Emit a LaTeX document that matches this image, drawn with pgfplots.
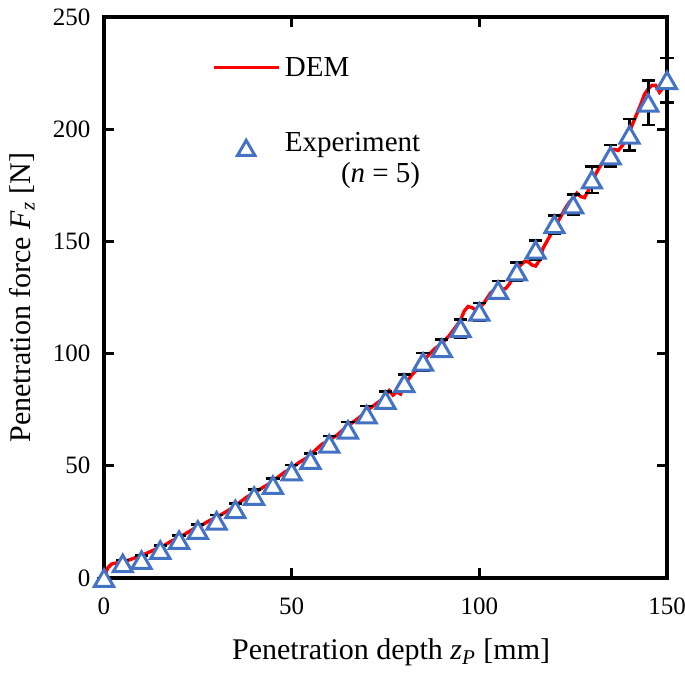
\documentclass[border=0pt]{standalone}
\usepackage{fontspec}
\setmainfont{Liberation Serif}
\usepackage{pgfplots}
\usepackage{pgfplotstable}
\pgfplotsset{compat=1.18}
\definecolor{demred}{RGB}{255,0,0}
\definecolor{expblue}{RGB}{68,114,196}

\pgfplotstableread{
x y
0 0
0.5 2.5
1 4.5
2 6.2
3 6.6
4 6.9
5 7.2
7 8.2
9 9.5
10 10
12 11.5
14 13
16 14.5
18 16.5
20 18
22 20
24 22
26 23.5
28 25.5
30 27
32 29
34 31
36 33.5
38 36
40 38
42 40
44 42
46 44.5
48 47
50 49
52 51.5
54 53.5
56 56.5
58 59.5
60 61.5
62 63.5
64 66.5
66 69
68 71.5
70 74.5
72 77
74 79.5
75 81.5
76 83.5
77 81.5
78 83
79 82
80 86
82 90.5
84 94
86 98.5
88 102
90 104.5
92 108
94 112.5
95 115
96 119
97 121
98 120.5
99 119.5
100 120.5
101 122
102 124.5
103 127
104 128.5
105 129
106 128.5
107 129
108 131
109 134
110 137
111 139.5
112 141
113 141
114 139.5
115 139
116 141.5
117 147
118 150
119 153
120 156
121 159
122 162
123 165
124 167.5
125 169
126 171.5
127 170
128 169.5
129 172.5
130 176
131 180
132 183
133 185.5
134 188
135 190
136 191
137 190.5
138 192.5
139 195
140 199
141 203
142 207
143 211
144 215.5
145 218
146 219.5
147 219.5
148 216.5
149 218.5
150 219
}\demtable

\pgfplotstableread{
x y e
0 0 0
5 6.5 1.5
10 8 2
15 12.5 2
20 16.9 2
25 21.4 2.5
30 25.5 2.5
35 30.6 2.5
40 36.5 3
45 41.4 3
50 47.4 3
55 52.6 3
60 59.8 3.5
65 66 3.5
70 72.8 3.8
75 79.3 3.8
80 86.8 4
85 96.3 4
90 102.4 4
95 111.3 4
100 118.6 4
105 128.3 4
110 136.5 4
115 146.2 4.3
120 157.6 4
125 166.4 4.5
130 177.5 6
135 188.2 4.8
140 197.5 7
145 211.8 10
150 221.8 10
}\exptable

\begin{document}
\begin{tikzpicture}
\begin{axis}[
  scale only axis,
  width=281.5pt, height=280.5pt,
  xmin=0, xmax=150, ymin=0, ymax=250,
  xtick={0,50,100,150},
  ytick={0,50,100,150,200,250},
  minor tick num=0,
  tick align=inside,
  tick pos=both,
  major tick length=5pt,
  axis line style={line width=1.6pt},
  every tick/.style={black, line width=1.4pt},
  /pgf/number format/assume math mode=true,
  tick label style={font=\fontsize{12.5}{15}\selectfont},
  xticklabel style={yshift=-6.5pt},
  yticklabel style={xshift=-3.3pt},
  xlabel={Penetration depth \textit{z}\textsubscript{\textit{P}} [mm]},
  ylabel={Penetration force \textit{F}\textsubscript{\textit{z}} [N]},
  label style={font=\fontsize{15}{18}\selectfont},
  xlabel style={at={(axis description cs:0.51,-0.146)}, anchor=base},
  ylabel style={at={(axis description cs:-0.131,0.5)}, anchor=base},
  clip=false,
  legend cell align=left,
  legend style={draw=none, fill=none, inner sep=0pt,
    at={(axis description cs:0.192,0.935)}, anchor=north west,
    font=\fontsize{14.5}{15.5}\selectfont,
    row sep=21pt, column sep=0pt,
    cells={anchor=base west}},
]
\addplot[demred, line width=1.7pt, no marks,
  legend image code/.code={\draw[demred, line width=1.7pt] (0pt,4.75pt) -- (32.5pt,4.75pt);}]
  table[x=x, y=y] {\demtable};
\addlegendentry{DEM}
\addplot[only marks, mark=none, forget plot,
  error bars/.cd, y dir=both, y explicit,
  error mark=-,
  error bar style={solid, black, line width=1.3pt},
  error mark options={black, rotate=90, line width=1.3pt, mark size=3.3pt}]
  table[x=x, y=y, y error=e] {\exptable};
\addplot[only marks, mark=triangle*, mark size=5.5pt,
  mark options={fill=white, draw=expblue, line width=1.5pt, yshift=-1.4pt},
  legend image code/.code={\draw[mark=triangle*, mark size=5pt, mark options={fill=white, draw=expblue, line width=1.5pt}] plot coordinates {(16pt,0.6pt)};}]
  table[x=x, y=y] {\exptable};
\addlegendentry{\begin{tabular}[t]{@{}r@{}}Experiment\\(\textit{n} = 5)\end{tabular}}
\coordinate (sw) at (rel axis cs:0,0);
\coordinate (ne) at (rel axis cs:1,1);
\end{axis}
\pgfresetboundingbox
\useasboundingbox ([shift={(-52pt,-48.5pt)}]sw) rectangle ([shift={(9pt,8.5pt)}]ne);
\end{tikzpicture}
\end{document}
